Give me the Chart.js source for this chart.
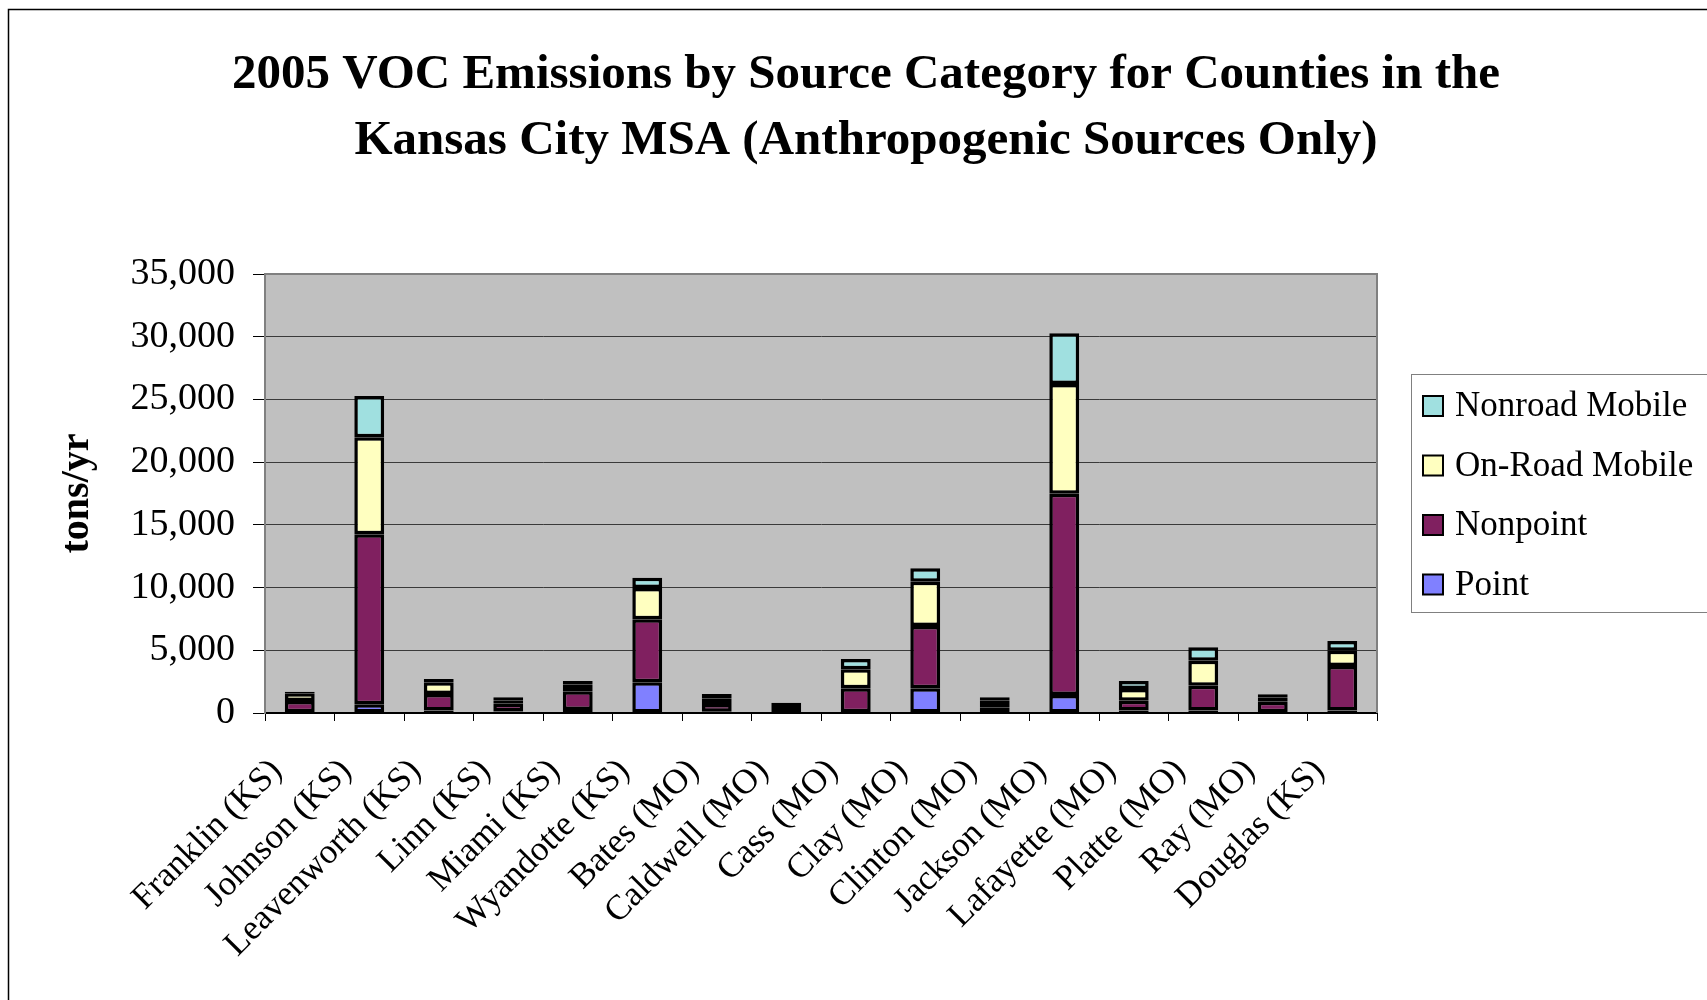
<!DOCTYPE html>
<html>
<head>
<meta charset="utf-8">
<title>2005 VOC Emissions by Source Category</title>
<script src="https://cdn.jsdelivr.net/npm/chart.js@4.4.1/dist/chart.umd.min.js"></script>
<style>
    html, body { margin: 0; padding: 0; background: #ffffff; }
    #wrap { width: 1707px; height: 1000px; position: relative; }
</style>
</head>
<body>
<div id="wrap"><canvas id="voc-chart" width="1707" height="1000"></canvas></div>
<script>
// --- Data (tons/yr) ---
const counties = [
    'Franklin (KS)', 'Johnson (KS)', 'Leavenworth (KS)', 'Linn (KS)', 'Miami (KS)',
    'Wyandotte (KS)', 'Bates (MO)', 'Caldwell (MO)', 'Cass (MO)', 'Clay (MO)',
    'Clinton (MO)', 'Jackson (MO)', 'Lafayette (MO)', 'Platte (MO)', 'Ray (MO)', 'Douglas (KS)'
];
const pointSrc    = [60, 700, 200, 120, 240, 2450, 100, 60, 60, 1970, 60, 1430, 200, 200, 60, 200];
const nonpointSrc = [900, 13550, 1310, 620, 1490, 5020, 620, 330, 1910, 4970, 390, 16060, 780, 1980, 840, 3550];
const onRoadSrc   = [620, 7730, 950, 280, 530, 2500, 450, 250, 1510, 3530, 530, 8750, 930, 1990, 350, 1220];
const nonroadSrc  = [120, 3300, 250, 230, 290, 820, 350, 180, 820, 1070, 270, 4040, 640, 1070, 240, 770];

const titleLines = [
    '2005 VOC Emissions by Source Category for Counties in the',
    'Kansas City MSA (Anthropogenic Sources Only)'
];

const serif = '"Liberation Serif", "Times New Roman", serif';

// Plot background, frame, title and legend (Excel-style)
const decorPlugin = {
    id: 'decor',
    beforeDraw(chart) {
        const { ctx, chartArea: a } = chart;
        ctx.save();
        ctx.fillStyle = '#ffffff';
        ctx.fillRect(0, 0, chart.width, chart.height);
        ctx.fillStyle = '#c0c0c0';
        ctx.fillRect(a.left, a.top, a.right - a.left, a.bottom - a.top);
        ctx.restore();
    },
    afterDatasetsDraw(chart) {
        const { ctx, chartArea: a } = chart;
        ctx.save();
        ctx.strokeStyle = '#808080';
        ctx.lineWidth = 2;
        ctx.beginPath();
        ctx.moveTo(a.left, a.top);
        ctx.lineTo(a.right, a.top);
        ctx.lineTo(a.right, a.bottom);
        ctx.stroke();
        ctx.restore();
    },
    afterDraw(chart) {
        const ctx = chart.ctx;
        ctx.save();

        // outer chart border (only top and left are in frame)
        ctx.strokeStyle = '#000';
        ctx.lineWidth = 1.5;
        ctx.beginPath();
        ctx.moveTo(8.5, chart.height);
        ctx.lineTo(8.5, 9.5);
        ctx.lineTo(chart.width, 9.5);
        ctx.stroke();

        // title
        ctx.fillStyle = '#000';
        ctx.font = 'bold 49px ' + serif;
        ctx.textAlign = 'center';
        ctx.textBaseline = 'alphabetic';
        ctx.fillText(titleLines[0], 866, 88);
        ctx.fillText(titleLines[1], 866, 154);

        // legend, top entry = last dataset
        ctx.strokeStyle = '#808080';
        ctx.lineWidth = 1;
        ctx.strokeRect(1411.5, 374.5, 400, 238);
        ctx.font = '35px ' + serif;
        ctx.textAlign = 'left';
        ctx.textBaseline = 'middle';
        const sets = chart.data.datasets.slice().reverse();
        sets.forEach((ds, i) => {
            const cy = 406 + i * 59.5;
            ctx.fillStyle = ds.backgroundColor;
            ctx.fillRect(1423, cy - 10, 20, 20);
            ctx.strokeStyle = '#000';
            ctx.lineWidth = 2;
            ctx.strokeRect(1423, cy - 10, 20, 20);
            ctx.fillStyle = '#000';
            ctx.fillText(ds.label, 1455, cy + 1);
        });
        ctx.restore();
    }
};

const barStyle = {
    borderColor: '#000000',
    borderWidth: 3.5,
    borderSkipped: false,
    barPercentage: 0.43,
    categoryPercentage: 1.0,
};

const ctx = document.getElementById('voc-chart').getContext('2d');
const vocChart = new Chart(ctx, {
    type: 'bar',
    data: {
        labels: counties,
        datasets: [
            { label: 'Point', data: pointSrc, backgroundColor: '#8080ff', ...barStyle },
            { label: 'Nonpoint', data: nonpointSrc, backgroundColor: '#802060', ...barStyle },
            { label: 'On-Road Mobile', data: onRoadSrc, backgroundColor: '#ffffc0', ...barStyle },
            { label: 'Nonroad Mobile', data: nonroadSrc, backgroundColor: '#a0e0e0', ...barStyle },
        ],
    },
    options: {
        responsive: false,
        animation: false,
        layout: {
            padding: { top: 274, right: 330, bottom: 0, left: 0 },
        },
        plugins: {
            legend: { display: false },
            title: { display: false },
            tooltip: { enabled: false },
        },
        scales: {
            x: {
                stacked: true,
                afterFit: (scale) => { scale.height = 287; },
                grid: {
                    display: true,
                    drawOnChartArea: false,
                    drawTicks: true,
                    tickLength: 8,
                    tickColor: '#000',
                    offset: true,
                },
                border: { display: true, color: '#000', width: 2 },
                ticks: {
                    autoSkip: false,
                    minRotation: 45,
                    maxRotation: 45,
                    padding: 30,
                    labelOffset: -23,
                    color: '#000',
                    font: { family: serif, size: 35 },
                },
            },
            y: {
                stacked: true,
                min: 0,
                max: 35000,
                afterFit: (scale) => { scale.width = 265; },
                grid: {
                    color: '#3a3a3a',
                    lineWidth: 1,
                    drawTicks: true,
                    tickLength: 12,
                    tickColor: '#000',
                },
                border: { display: true, color: '#808080', width: 2 },
                ticks: {
                    stepSize: 5000,
                    padding: 18,
                    color: '#000',
                    font: { family: serif, size: 38 },
                    callback: (v) => v.toLocaleString('en-US'),
                },
                title: {
                    display: true,
                    text: 'tons/yr',
                    color: '#000',
                    padding: { top: 54, bottom: 0 },
                    font: { family: serif, size: 40, weight: 'bold' },
                },
            },
        },
    },
    plugins: [decorPlugin],
});
</script>
</body>
</html>
